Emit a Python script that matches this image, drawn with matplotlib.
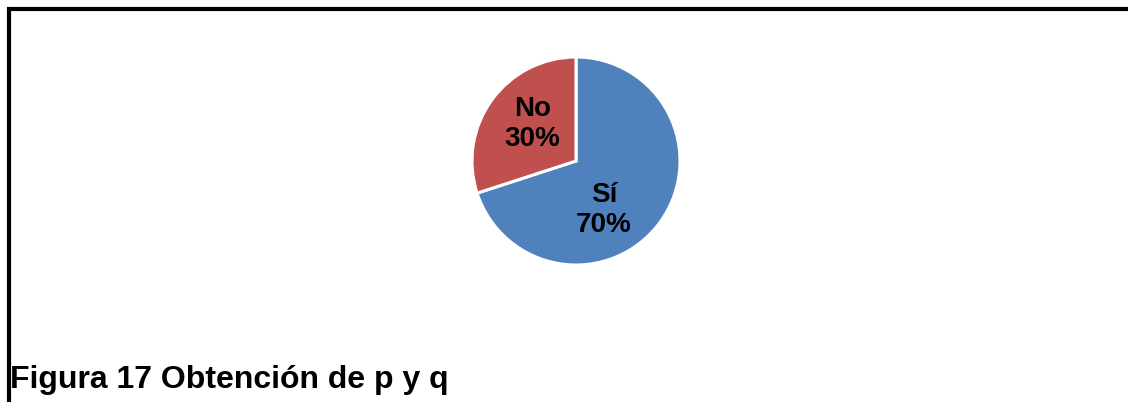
import matplotlib
matplotlib.use("Agg")
import matplotlib.pyplot as plt
from matplotlib.lines import Line2D

# data
labels = ["Sí", "No"]
values = [70, 30]
colors = ["#4F81BD", "#C0504D"]
caption = "Figura 17 Obtención de p y q"

plt.rcParams['font.family'] = ['Liberation Sans', 'DejaVu Sans']

W, H = 1128, 409
fig = plt.figure(figsize=(W / 100, H / 100), dpi=100)
fig.patch.set_facecolor("white")

# pie centred at (576, 161) px, radius 104 px
cx, cy, r = 576, 161, 104
ax = fig.add_axes([(cx - r) / W, (H - cy - r) / H, 2 * r / W, 2 * r / H])
wedges, _ = ax.pie(values, colors=colors, startangle=90, counterclock=False,
                   wedgeprops=dict(edgecolor="white", linewidth=2.2))
ax.set_xlim(-1, 1)
ax.set_ylim(-1, 1)
ax.set_aspect("equal")
ax.axis("off")

# label positions (fraction of radius)
label_pos = [(0.27, -0.47), (-0.42, 0.36)]
for lab, v, (x, y) in zip(labels, values, label_pos):
    ax.text(x, y, f"{lab}\n{v}%", ha="center", va="center", fontsize=20,
            fontweight="bold", color="black", linespacing=1.2)

# frame lines
fig.add_artist(Line2D([7 / W, 1.0], [1 - 9 / H, 1 - 9 / H], color="black",
                      linewidth=3, solid_capstyle="butt", transform=fig.transFigure))
fig.add_artist(Line2D([8.5 / W, 8.5 / W], [1 - 7 / H, 1 - 402 / H], color="black",
                      linewidth=3, solid_capstyle="butt", transform=fig.transFigure))

fig.text(10 / W, 1 - 388 / H, caption, ha="left", va="baseline", fontsize=23,
         fontweight="bold", color="black")

fig.savefig("out.png", dpi=100, facecolor="white")
